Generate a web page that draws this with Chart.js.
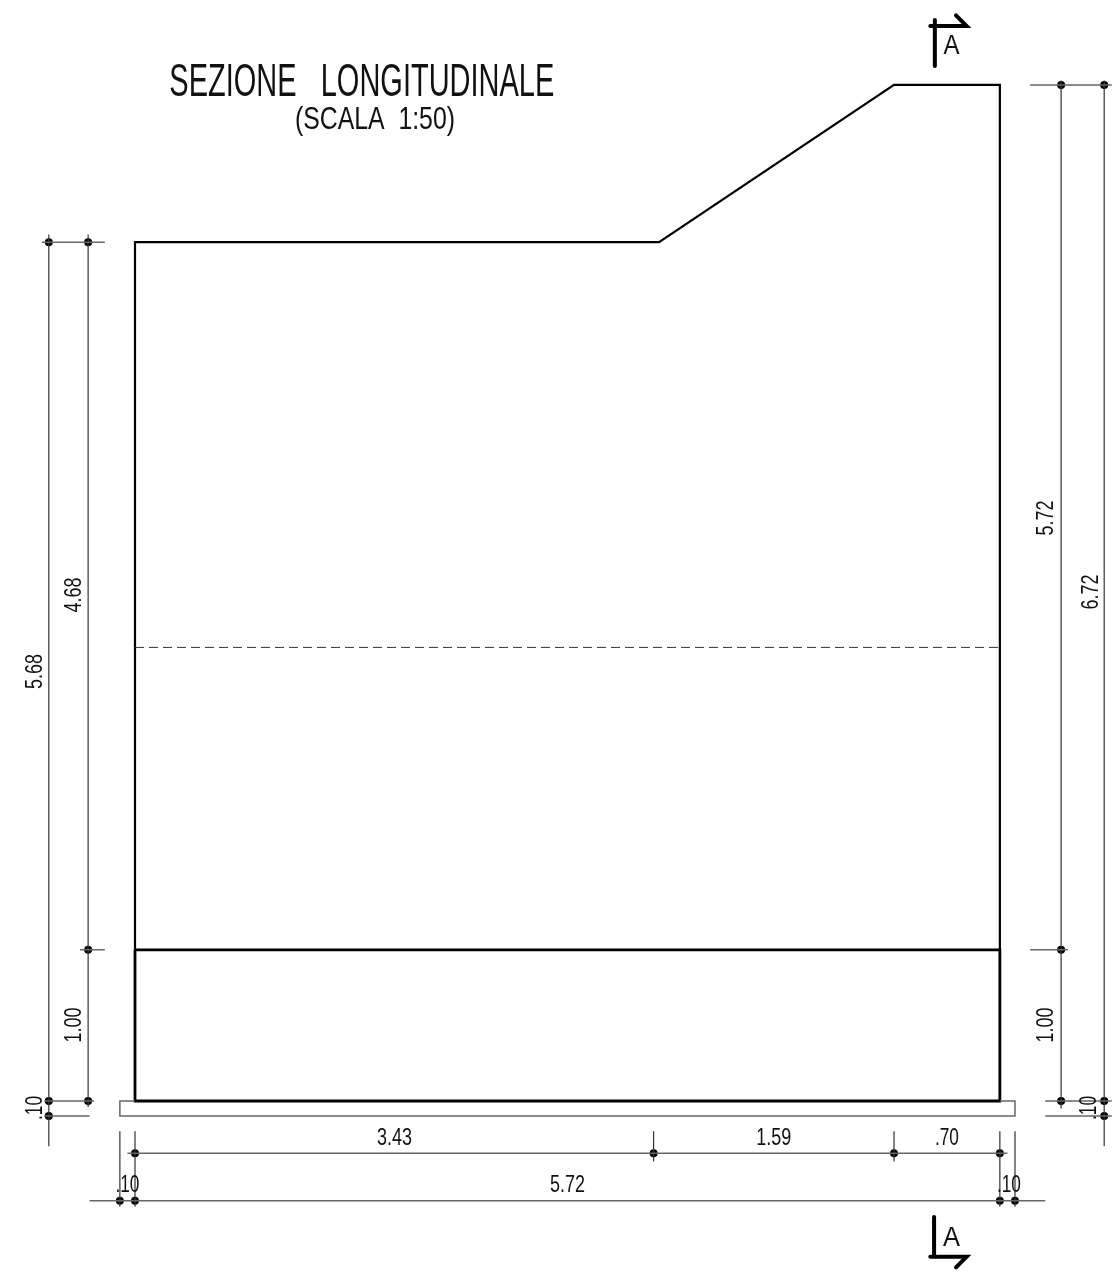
<!DOCTYPE html>
<html lang="it">
<head>
<meta charset="utf-8">
<title>Sezione longitudinale</title>
<style>
    html, body { margin: 0; padding: 0; background: #fff; }
    canvas { display: block; }
</style>
<script src="https://cdn.jsdelivr.net/npm/chart.js@4/dist/chart.umd.min.js"></script>
</head>
<body>
<canvas id="sezione" width="1116" height="1278"></canvas>
<script>
"use strict";

// all values in metres, origin = inner bottom left corner of the base
// null = break in the line
const wallX = [0, 0, 3.466, 5.02, 5.72, 5.72];
const wallY = [1, 5.68, 5.68, 6.72, 6.72, 1];
const baseX = [0, 0, 5.72, 5.72, 0];
const baseY = [1, 0, 0, 1, 1];
const slabX = [0, -0.10, -0.10, 5.82, 5.82, 5.72];
const slabY = [0, 0, -0.10, -0.10, 0, 0];
const levelX = [0, 5.72];
const levelY = [3, 3];

// vertical dimension lines and extension ticks
const dimVertX = [-0.57, -0.57, null, -0.31, -0.31, null, 6.125, 6.125, null, 6.41, 6.41, null,
    -0.10, -0.10, null, 0, 0, null, 3.43, 3.43, null, 5.02, 5.02, null, 5.72, 5.72, null, 5.82, 5.82];
const dimVertY = [5.73, -0.30, null, 5.73, -0.04, null, 6.75, -0.05, null, 6.75, -0.30, null,
    -0.20, -0.70, null, -0.20, -0.70, null, -0.20, -0.40, null, -0.20, -0.40, null, -0.20, -0.70, null, -0.20, -0.70];

// horizontal dimension lines and extension ticks
const dimHorX = [-0.615, -0.20, null, -0.364, -0.20, null, -0.60, -0.27, null, -0.60, -0.30, null,
    5.92, 6.46, null, 5.92, 6.17, null, 6.02, 6.46, null, 6.02, 6.46, null,
    -0.05, 5.77, null, -0.30, 6.02];
const dimHorY = [5.68, 5.68, null, 1, 1, null, 0, 0, null, -0.10, -0.10, null,
    6.72, 6.72, null, 1, 1, null, 0, 0, null, -0.10, -0.10, null,
    -0.345, -0.345, null, -0.66, -0.66];

const dotX = [-0.57, -0.31, -0.31, -0.57, -0.31, -0.57,
    6.125, 6.41, 6.125, 6.125, 6.41, 6.41,
    0, 3.43, 5.02, 5.72, -0.10, 0, 5.72, 5.82];
const dotY = [5.68, 5.68, 1, 0, 0, -0.10,
    6.72, 6.72, 1, 0, 0, -0.10,
    -0.345, -0.345, -0.345, -0.345, -0.66, -0.66, -0.66, -0.66];

// section marks A-A
const markX = [5.29, 5.29, null, 5.26, 5.50, 5.43, null, 5.285, 5.285, null, 5.26, 5.50, 5.43];
const markY = [7.15, 6.845, null, 7.11, 7.11, 7.18, null, -0.767, -1.03, null, -1.03, -1.03, -1.10];

const dimLabels = ["5.68", "4.68", "1.00", ".10", "5.72", "6.72", "1.00", ".10", "3.43", "1.59", ".70", "5.72", ".10", ".10"];
const dimLabelX = [-0.66, -0.403, -0.403, -0.66, 6.03, 6.323, 6.03, 6.31, 1.716, 4.225, 5.37, 2.86, -0.05, 5.78];
const dimLabelY = [2.84, 3.347, 0.503, -0.046, 3.856, 3.366, 0.503, -0.046, -0.25, -0.25, -0.25, -0.555, -0.555, -0.555];
const titoli = ["SEZIONE   LONGITUDINALE", "(SCALA  1:50)", "A", "A"];
const titoliX = [1.5, 1.587, 5.40, 5.40];
const titoliY = [6.73, 6.485, 6.975, -0.905];

const FONT = '"Liberation Sans Narrow", "Liberation Sans", sans-serif';
const PX_M = 151.2;
const ORIG_X = 135;
const ORIG_Y = 1101;

function punti(xs, ys) {
    return xs.map(function(x, i) { return { x: x, y: ys[i] }; });
}

function linea(xs, ys, colore, spessore) {
    return {
        data: punti(xs, ys),
        showLine: true,
        borderColor: colore,
        borderWidth: spessore,
        pointRadius: 0,
        tension: 0,
        spanGaps: false
    };
}

// canvas text placed through the scales
const testi = {
    id: "testi",
    afterDatasetsDraw: function(chart) {
        const ctx = chart.ctx;
        const sx = chart.scales.x;
        const sy = chart.scales.y;
        ctx.save();
        ctx.fillStyle = "#111";
        ctx.textAlign = "center";
        ctx.textBaseline = "middle";
        for (let i = 0; i < dimLabels.length; i++) {
            ctx.save();
            ctx.translate(sx.getPixelForValue(dimLabelX[i]), sy.getPixelForValue(dimLabelY[i]));
            if (i < 8)
                ctx.rotate(-Math.PI / 2);
            ctx.font = "24px " + FONT;
            ctx.fillText(dimLabels[i], 0, 0, dimLabels[i].length == 3 ? 24 : 35);
            ctx.restore();
        }
        const corpi = [46, 31, 28, 28];
        const larghe = [385, 160, 16, 17];
        for (let i = 0; i < titoli.length; i++) {
            ctx.font = corpi[i] + "px " + FONT;
            ctx.fillText(titoli[i], sx.getPixelForValue(titoliX[i]), sy.getPixelForValue(titoliY[i]), larghe[i]);
        }
        ctx.restore();
    }
};

window.onload = function() {
    const _canvas = document.getElementById("sezione");
    const sezione = linea(markX, markY, "#000", 4);
    sezione.borderCapStyle = "round";
    const tratteggio = linea(levelX, levelY, "#333", 1);
    tratteggio.borderDash = [9, 5];

    new Chart(_canvas, {
        type: "scatter",
        data: {
            datasets: [
                linea(slabX, slabY, "#666", 1.5),
                tratteggio,
                linea(dimHorX, dimHorY, "#666", 1.5),
                linea(dimVertX, dimVertY, "#333", 1.2),
                linea(wallX, wallY, "#000", 2.2),
                linea(baseX, baseY, "#000", 2.8),
                sezione,
                {
                    data: punti(dotX, dotY),
                    showLine: false,
                    pointRadius: 4,
                    pointBackgroundColor: "#000",
                    pointBorderWidth: 0
                }
            ]
        },
        options: {
            responsive: false,
            animation: false,
            devicePixelRatio: 1,
            events: [],
            layout: { padding: 0, autoPadding: false },
            plugins: { legend: { display: false }, tooltip: { enabled: false }, title: { display: false } },
            scales: {
                x: { type: "linear", display: false, min: -ORIG_X / PX_M, max: (1116 - ORIG_X) / PX_M },
                y: { type: "linear", display: false, min: (ORIG_Y - 1278) / PX_M, max: ORIG_Y / PX_M }
            }
        },
        plugins: [testi]
    });
};
</script>
</body>
</html>
